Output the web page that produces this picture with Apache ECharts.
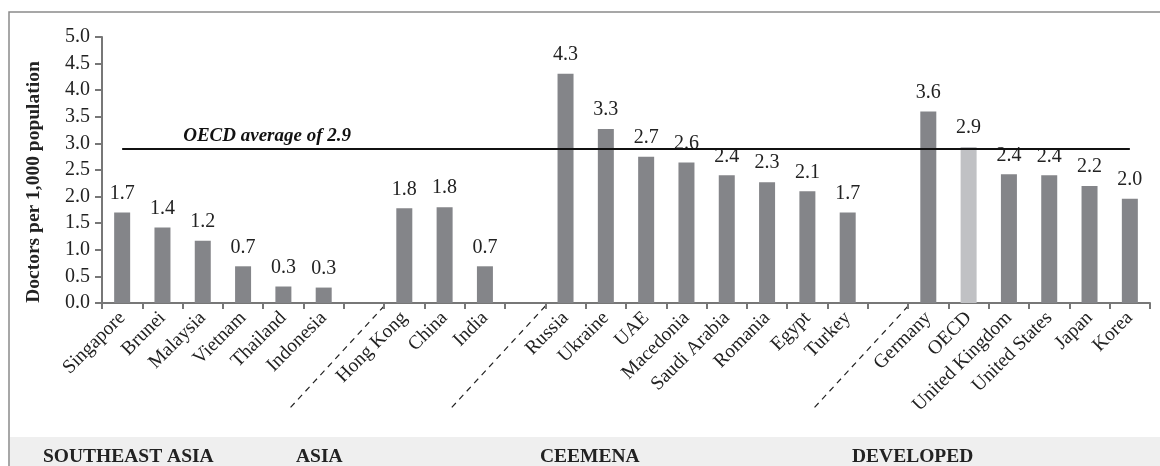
<!DOCTYPE html>
<html>
<head>
<meta charset="utf-8">
<script src="https://cdn.jsdelivr.net/npm/echarts@6/dist/echarts.min.js"></script>
<style>
html,body{margin:0;padding:0;background:#fff;}
#main{width:1160px;height:466px;}
</style>
</head>
<body>
<div id="main"></div>
<script>
// ---- data ----
var categories = ['Singapore','Brunei','Malaysia','Vietnam','Thailand','Indonesia','',
  'Hong Kong','China','India','',
  'Russia','Ukraine','UAE','Macedonia','Saudi Arabia','Romania','Egypt','Turkey','',
  'Germany','OECD','United Kingdom','United States','Japan','Korea'];
var values = [1.7,1.42,1.17,0.69,0.31,0.29,null,
  1.78,1.8,0.69,null,
  4.31,3.27,2.75,2.64,2.4,2.27,2.1,1.7,null,
  3.6,2.93,2.42,2.4,2.2,1.96];
var valueLabels = ['1.7','1.4','1.2','0.7','0.3','0.3','',
  '1.8','1.8','0.7','',
  '4.3','3.3','2.7','2.6','2.4','2.3','2.1','1.7','',
  '3.6','2.9','2.4','2.4','2.2','2.0'];
var highlightCategory = 'OECD';
var oecdAverage = 2.9;
var oecdAverageLabel = 'OECD average of 2.9';
var yTicks = [0,0.5,1,1.5,2,2.5,3,3.5,4,4.5,5];
var groupNames = ['SOUTHEAST ASIA','ASIA','CEEMENA','DEVELOPED'];
var groupLabelX = [43, 296, 540, 852];
var gapIndices = [6, 10, 19];
var axisTitle = 'Doctors per 1,000 population';

var FONT = "'Liberation Serif','Times New Roman',serif";
var BAR = '#848589';
var BAR_HI = '#c0c1c4';

var chart = echarts.init(document.getElementById('main'), null, {renderer:'canvas'});

var barData = values.map(function(v, i){
  if (v === null) return {value: null};
  return {value: v, itemStyle: {color: categories[i] === highlightCategory ? BAR_HI : BAR}};
});

var baseGraphics = [
  {type:'rect', z:-10, shape:{x:10, y:437, width:1150, height:30}, style:{fill:'#efefef'}},
  {type:'rect', z:-5, shape:{x:9, y:12, width:1200, height:500}, style:{fill:'none', stroke:'#8a8a8a', lineWidth:1.5}}
];
groupNames.forEach(function(n, i){
  baseGraphics.push({type:'text', x:groupLabelX[i], y:457,
    style:{text:n, font:"bold 19.5px " + FONT, fill:'#222', textVerticalAlign:'middle', verticalAlign:'middle'}});
});

chart.setOption({
  animation:false,
  backgroundColor:'#fff',
  grid:{left:102, right:10, top:37, bottom:163, containLabel:false},
  xAxis:{
    type:'category',
    data:categories,
    axisLine:{lineStyle:{color:'#777', width:2}},
    axisTick:{show:true, length:6, lineStyle:{color:'#777', width:2}},
    axisLabel:{rotate:45, interval:0, fontFamily:FONT, fontSize:19.5, color:'#222', margin:12}
  },
  yAxis:{
    type:'value',
    min:0, max:5, interval:0.5,
    name:axisTitle,
    nameLocation:'middle',
    nameGap:58,
    nameTextStyle:{fontFamily:FONT, fontSize:19.5, fontWeight:'bold', color:'#222', padding:[0,24,0,0]},
    axisLine:{show:true, lineStyle:{color:'#777', width:2}},
    axisTick:{show:true, length:7, lineStyle:{color:'#777', width:2}},
    axisLabel:{fontFamily:FONT, fontSize:20, color:'#222', margin:12,
      formatter:function(v){ return v.toFixed(1); }},
    splitLine:{show:false}
  },
  series:[{
    type:'bar',
    data:barData,
    barWidth:16,
    label:{show:true, position:'top', distance:9, fontFamily:FONT, fontSize:20, color:'#222',
      formatter:function(p){ return valueLabels[p.dataIndex]; }},
    markLine:{
      silent:true,
      symbol:'none',
      lineStyle:{color:'#111', width:2, type:'solid'},
      label:{show:true, position:'insideStartTop', formatter:oecdAverageLabel,
        fontFamily:FONT, fontSize:19, fontWeight:'bold', fontStyle:'italic', color:'#111',
        padding:[0,0,0,58], distance:3},
      data:[[{xAxis:categories[0], yAxis:oecdAverage},{xAxis:categories[categories.length-1], yAxis:oecdAverage}]]
    }
  }],
  graphic:baseGraphics
});

// dashed separators between groups, positioned through the axis scales
function drawSeparators(){
  var x0 = chart.convertToPixel({xAxisIndex:0}, 0);
  var x1 = chart.convertToPixel({xAxisIndex:0}, 1);
  var band = x1 - x0;
  var y0 = chart.convertToPixel({yAxisIndex:0}, 0);
  var g = baseGraphics.slice();
  gapIndices.forEach(function(gi){
    var xb = chart.convertToPixel({xAxisIndex:0}, gi) + band/2;
    g.push({type:'line', shape:{x1:xb, y1:y0+3, x2:xb-96, y2:y0+107},
      style:{stroke:'#222', lineWidth:1.2, lineDash:[6,5]}});
  });
  chart.setOption({graphic:g}, {replaceMerge:['graphic']});
}
drawSeparators();
</script>
</body>
</html>
